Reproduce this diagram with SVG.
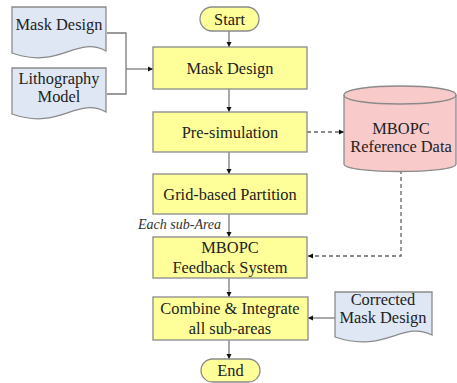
<svg xmlns="http://www.w3.org/2000/svg" width="457" height="383" viewBox="0 0 457 383">
<defs>
<style>
.box{fill:#ffff99;stroke:#8a8a8a;stroke-width:1.3}
.doc{fill:#dfe7f4;stroke:#8a8a8a;stroke-width:1.3}
.cyl{fill:#f9caca;stroke:#8a8a8a;stroke-width:1.3}
.t{font-family:"Liberation Serif","Times New Roman",serif;font-size:16.4px;fill:#222;text-anchor:middle}
.it{font-family:"Liberation Serif","Times New Roman",serif;font-size:14px;font-style:italic;fill:#333}
.c{fill:none;stroke:#7a7a7a;stroke-width:1.3}
.d{fill:none;stroke:#666;stroke-width:1.3;stroke-dasharray:4,3}
</style>
<marker id="ah" markerWidth="6" markerHeight="6" refX="5" refY="3" orient="auto" markerUnits="userSpaceOnUse">
<path d="M0,0.5 L5,3 L0,5.5 Z" fill="#111"/>
</marker>
</defs>
<g id="connectors">
<polyline class="c" points="107,33 126,33 126,94 107,94"/>
<line class="c" x1="126" y1="69" x2="153" y2="69" marker-end="url(#ah)"/>
<line class="c" x1="229" y1="31" x2="229" y2="47" marker-end="url(#ah)"/>
<line class="c" x1="229" y1="89" x2="229" y2="112" marker-end="url(#ah)"/>
<line class="c" x1="229" y1="152" x2="229" y2="174" marker-end="url(#ah)"/>
<line class="c" x1="229" y1="214" x2="229" y2="237" marker-end="url(#ah)"/>
<line class="c" x1="229" y1="278" x2="229" y2="297" marker-end="url(#ah)"/>
<line class="c" x1="229" y1="340" x2="229" y2="359" marker-end="url(#ah)"/>
<line class="c" x1="335" y1="318" x2="308" y2="318" marker-end="url(#ah)"/>
<line class="d" x1="307" y1="132" x2="344" y2="132" marker-end="url(#ah)"/>
<polyline class="d" points="401,170 401,256 308,256" marker-end="url(#ah)"/>
<text class="it" x="138" y="229">Each sub-Area</text>
</g>
<g id="doc-mask">
<path class="doc" d="M12,7 H106 V51 C76,35 60,70 12,53 Z"/>
<text class="t" x="59" y="30">Mask Design</text>
</g>
<g id="doc-litho">
<path class="doc" d="M12,68 H106 V112 C76,96 60,131 12,114 Z"/>
<text class="t" x="59" y="84">Lithography</text>
<text class="t" x="59" y="102">Model</text>
</g>
<g id="start">
<rect class="box" x="200" y="7" width="59" height="24" rx="12"/>
<text class="t" x="229.5" y="25">Start</text>
</g>
<g id="mask-design">
<rect class="box" x="153" y="47" width="154" height="42"/>
<text class="t" x="230" y="74">Mask Design</text>
</g>
<g id="presim">
<rect class="box" x="153" y="112" width="154" height="40"/>
<text class="t" x="230" y="138">Pre-simulation</text>
</g>
<g id="grid">
<rect class="box" x="153" y="174" width="154" height="40"/>
<text class="t" x="230" y="200">Grid-based Partition</text>
</g>
<g id="feedback">
<rect class="box" x="153" y="237" width="154" height="41"/>
<text class="t" x="230" y="253">MBOPC</text>
<text class="t" x="230" y="273">Feedback System</text>
</g>
<g id="combine">
<rect class="box" x="153" y="297" width="155" height="43"/>
<text class="t" x="230" y="314">Combine &amp; Integrate</text>
<text class="t" x="230" y="334">all sub-areas</text>
</g>
<g id="end">
<rect class="box" x="201" y="359" width="59" height="23" rx="11.5"/>
<text class="t" x="230.5" y="376">End</text>
</g>
<g id="refdata">
<path class="cyl" d="M344,95 C344,83 456,83 456,95 V164 C456,174 344,174 344,164 Z"/>
<path class="cyl" style="fill:none" d="M344,95 C344,107 456,107 456,95"/>
<text class="t" x="401" y="134">MBOPC</text>
<text class="t" x="401" y="152">Reference Data</text>
</g>
<g id="doc-corrected">
<path class="doc" d="M335,292 H432 V335 C402,320 385,354 335,337 Z"/>
<text class="t" x="383" y="305">Corrected</text>
<text class="t" x="383" y="323">Mask Design</text>
</g>
</svg>
